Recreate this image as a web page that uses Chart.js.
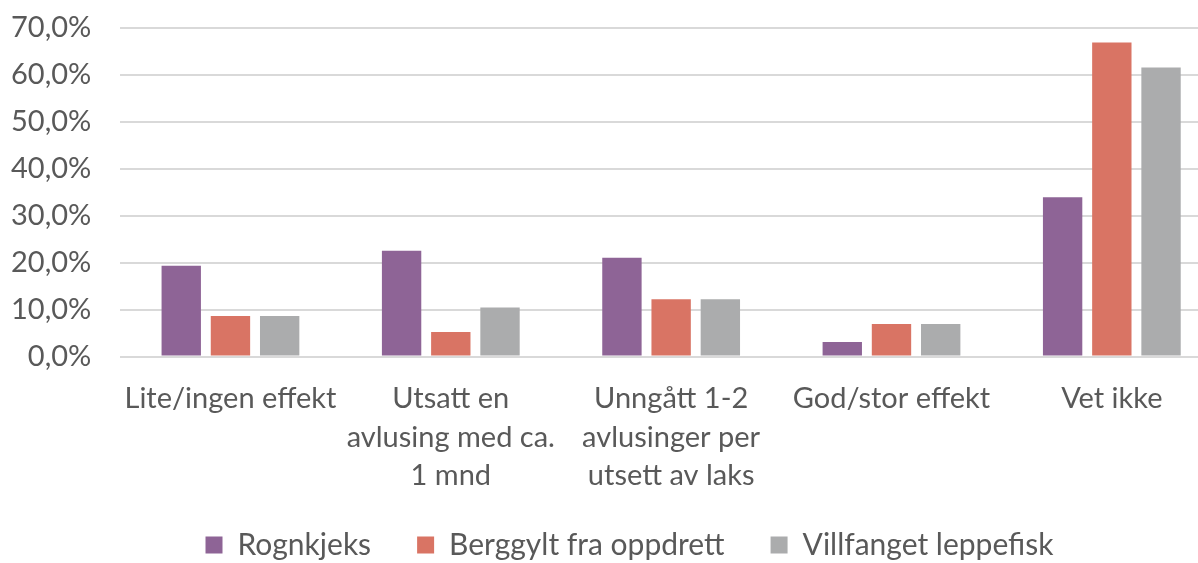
<!DOCTYPE html>
<html>
<head>
<meta charset="utf-8">
<script src="https://cdn.jsdelivr.net/npm/chart.js@4.4.1/dist/chart.umd.min.js"></script>
<style>
html,body{margin:0;padding:0;background:#fff;overflow:hidden;}
#wrap{width:1240px;height:563px;position:relative;}
</style>
</head>
<body>
<div id="wrap"><canvas id="c"></canvas></div>
<script>
const categories = [
  "Lite/ingen effekt",
  ["Utsatt en", "avlusing med ca.", "1 mnd"],
  ["Unngått 1-2", "avlusinger per", "utsett av laks"],
  "God/stor effekt",
  "Vet ikke"
];
const seriesNames = ["Rognkjeks", "Berggylt fra oppdrett", "Villfanget leppefisk"];
const rognkjeks = [19.3, 22.5, 21.0, 3.1, 33.9];
const berggylt = [8.6, 5.2, 12.2, 6.9, 66.8];
const villfanget = [8.6, 10.4, 12.2, 6.9, 61.5];
const colors = ["#8E6496", "#D97464", "#ABACAD"];
const yTicks = [0, 10, 20, 30, 40, 50, 60, 70];

const font = "Lato, 'Open Sans', sans-serif";
const txt = "#595959";

const shiftLegend = {
  id: 'shiftLegend',
  afterLayout(chart) {
    const lg = chart.legend;
    if (lg) {
      lg.left += 27.5; lg.right += 27.5;
      lg.top -= 19;
      lg.height += 19;
    }
  }
};

new Chart(document.getElementById('c'), {
  type: 'bar',
  data: {
    labels: categories,
    datasets: [rognkjeks, berggylt, villfanget].map((d, i) => ({
      label: seriesNames[i],
      data: d,
      backgroundColor: colors[i],
      borderWidth: 0,
      categoryPercentage: 0.67,
      barPercentage: 0.8
    }))
  },
  plugins: [shiftLegend],
  options: {
    responsive: true,
    maintainAspectRatio: false,
    animation: false,
    layout: { padding: { top: 27.5, left: -18, right: 18, bottom: 0 } },
    plugins: {
      tooltip: { enabled: false },
      legend: {
        position: 'bottom',
        align: 'center',
        maxHeight: 60,
        labels: {
          boxWidth: 17, boxHeight: 17,
          padding: 46,
          color: txt,
          font: { family: font, size: 30 }
        }
      }
    },
    scales: {
      y: {
        min: 0, max: 70,
        afterBuildTicks: (ax) => { ax.ticks = yTicks.map(v => ({ value: v })); },
        afterFit: (ax) => { ax.paddingTop = 0; ax.paddingBottom = 0; },
        grid: { color: '#D9D9D9', lineWidth: 2, drawTicks: false },
        border: { display: false },
        ticks: {
          color: txt,
          padding: 29,
          font: { family: font, size: 29 },
          callback: (v) => v.toFixed(1).replace('.', ',') + '%'
        }
      },
      x: {
        afterFit: (ax) => { ax.paddingLeft = 0; ax.paddingRight = 0; ax.height = 146.5; },
        grid: { display: false, drawTicks: false },
        border: { display: false },
        ticks: {
          color: txt,
          padding: 23,
          maxRotation: 0,
          autoSkip: false,
          font: { family: font, size: 29, lineHeight: 1.33 }
        }
      }
    }
  }
});
</script>
</body>
</html>
